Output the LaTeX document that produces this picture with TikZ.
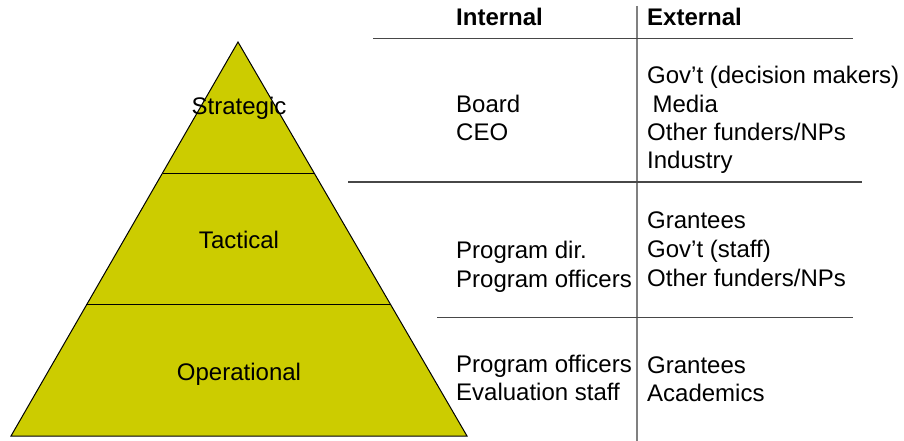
\documentclass[tikz,border=0pt]{standalone}
\usepackage{fontspec}
\setmainfont{Liberation Sans}
\usetikzlibrary{calc}
\definecolor{olive}{HTML}{CCCC00}
\begin{document}
\begin{tikzpicture}[x=1pt,y=-1pt,
  txt/.style={inner sep=0pt,font=\fontsize{24}{28}\selectfont,anchor=base west},
  head/.style={txt,font=\fontsize{24}{28}\selectfont\bfseries},
  level/.style={inner sep=0pt,font=\fontsize{24}{28}\selectfont,anchor=base},
  rule/.style={draw=black!72,line width=1.2pt},
  colrule/.style={draw=black!50,line width=1.8pt},
  tier/.style={fill=olive,draw=black,line width=1pt,line join=miter}]
\useasboundingbox (0,0) rectangle (904,441);

% pyramid corners
\coordinate (apex) at (238,42);
\coordinate (bl) at (11,436);
\coordinate (br) at (467,436);
\filldraw[tier] (apex) -- (br) -- (bl) -- cycle;
\draw[tier] ($(apex)!0.3325!(bl)$) -- ($(apex)!0.3325!(br)$);
\draw[tier] ($(apex)!0.6675!(bl)$) -- ($(apex)!0.6675!(br)$);

\node[level] (strat) at (239,115) {Strategic};
\node[level] (tact)  at (239,248.5) {Tactical};
\node[level] (oper)  at (239,380) {Operational};

% table rules
\coordinate (vtop) at (637,6);
\coordinate (vbot) at (637,441);
\draw[colrule] (vtop) -- (vbot);
\coordinate (h1a) at (373,38.3);  \coordinate (h1b) at (853,38.3);
\coordinate (h2a) at (348,182);   \coordinate (h2b) at (861.5,182);
\coordinate (h3a) at (437,317.7); \coordinate (h3b) at (853,317.7);
\draw[rule] (h1a) -- (h1b);
\draw[rule] (h2a) -- (h2b);
\draw[rule] (h3a) -- (h3b);

% headers
\node[head] (hint) at (456,25.7) {Internal};
\node[head] (hext) at (647,25.7) {External};

% strategic row
\node[txt] (s-i1) at (456,112.5) {Board};
\node[txt] (s-i2) at (456,140.8) {CEO};
\node[txt] (s-e1) at (647,83.8) {Gov’t (decision makers)};
\node[txt] (s-e2) at (652.3,112.3) {Media};
\node[txt] (s-e3) at (647,140.6) {Other funders/NPs};
\node[txt] (s-e4) at (647,168.9) {Industry};

% tactical row
\node[txt] (t-i1) at (456,258.5) {Program dir.};
\node[txt] (t-i2) at (456,287) {Program officers};
\node[txt] (t-e1) at (647,228.2) {Grantees};
\node[txt] (t-e2) at (647,257.5) {Gov’t (staff)};
\node[txt] (t-e3) at (647,286.5) {Other funders/NPs};

% operational row
\node[txt] (o-i1) at (456,372.3) {Program officers};
\node[txt] (o-i2) at (456,400.6) {Evaluation staff};
\node[txt] (o-e1) at (647,373) {Grantees};
\node[txt] (o-e2) at (647,401.3) {Academics};
\end{tikzpicture}
\end{document}
